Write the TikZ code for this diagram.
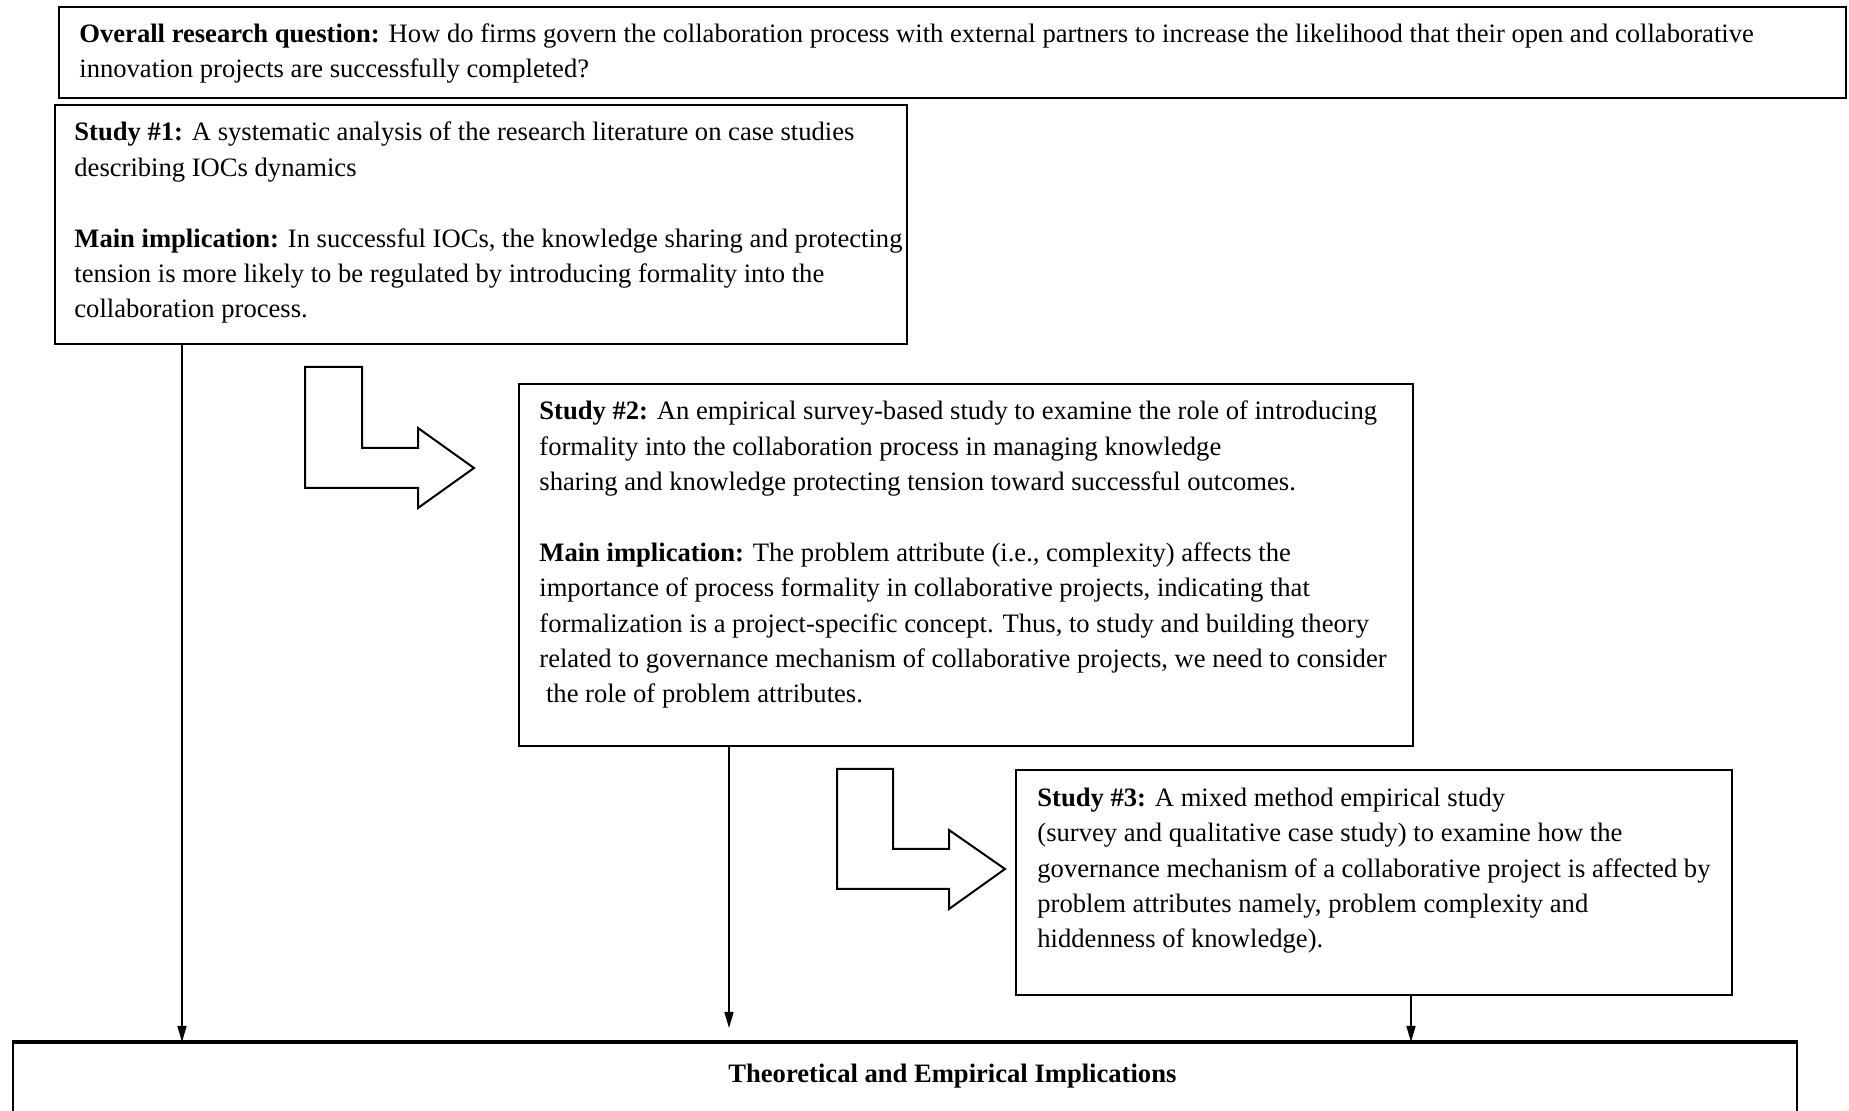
\documentclass[tikz,border=0pt]{standalone}
\usepackage{fontspec}
\setmainfont{Liberation Serif}
\usetikzlibrary{arrows.meta}
\tikzset{
  box/.style={draw=black, line width=1pt, fill=none, inner sep=0pt, anchor=north west},
  txt/.style={inner sep=0pt, anchor=base west, align=left, font=\fontsize{13.3pt}{17.7pt}\selectfont},
  conn/.style={line width=0.75pt, -{Triangle[length=8pt,width=4.5pt]}},
  bentarrow/.style={draw=black, line width=1pt, line join=miter, fill=white},
}
\begin{document}
\begin{tikzpicture}[x=0.5pt,y=-0.5pt]
\useasboundingbox (0,0) rectangle (1849,1111);
% boxes
\node[box, minimum width=893.5pt, minimum height=45.5pt] (top) at (58,6) {};
\node[box, minimum width=426pt, minimum height=119.5pt] (s1) at (54,104) {};
\node[box, minimum width=447pt, minimum height=181pt] (s2) at (518,383) {};
\node[box, minimum width=358pt, minimum height=112.5pt] (s3) at (1015,769) {};
\node[box, minimum width=892pt, minimum height=60pt] (impl) at (12,1042) {};
\draw[line width=2pt] (impl.north west) -- (impl.north east);
% texts (anchored at the baseline of their last line)
\node[txt] (toptxt) at (79,78) {\textbf{Overall research question:} How do firms govern the collaboration process with external partners to increase the likelihood that their open and collaborative\\innovation projects are successfully completed?};
\node[txt] (s1txt) at (74,318) {\textbf{Study \#1:} A systematic analysis of the research literature on case studies\\describing IOCs dynamics\\[17.7pt]\textbf{Main implication:} In successful IOCs, the knowledge sharing and protecting\\tension is more likely to be regulated by introducing formality into the\\collaboration process.};
\node[txt] (s2txt) at (539,703) {\textbf{Study \#2:} An empirical survey-based study to examine the role of introducing\\formality into the collaboration process in managing knowledge\\sharing and knowledge protecting tension toward successful outcomes.\\[17.7pt]\textbf{Main implication:} The problem attribute (i.e., complexity) affects the\\importance of process formality in collaborative projects, indicating that\\formalization is a project-specific concept. Thus, to study and building theory\\related to governance mechanism of collaborative projects, we need to consider\\\hspace*{0.25em}the role of problem attributes.};
\node[txt] (s3txt) at (1037,948) {\textbf{Study \#3:} A mixed method empirical study\\(survey and qualitative case study) to examine how the\\governance mechanism of a collaborative project is affected by\\problem attributes namely, problem complexity and\\hiddenness of knowledge).};
\node[txt] (impltxt) at (728,1083) {\textbf{Theoretical and Empirical Implications}};
% connectors
\coordinate (c1) at (182,0);
\coordinate (c2) at (729,0);
\coordinate (c3) at (1411,0);
\draw[conn] (s1.south -| c1) -- (impl.north -| c1);
\draw[conn] (s2.south -| c2) -- ([yshift=7pt]impl.north -| c2);
\draw[conn] (s3.south -| c3) -- (impl.north -| c3);
% bent arrows
\draw[bentarrow] (305,367) -- (362,367) -- (362,448) -- (418,448) -- (418,428) -- (474,468) -- (418,508) -- (418,488) -- (305,488) -- cycle;
\draw[bentarrow] (837,769) -- (893,769) -- (893,849) -- (949,849) -- (949,830) -- (1005,869) -- (949,909) -- (949,889) -- (837,889) -- cycle;
\end{tikzpicture}
\end{document}
